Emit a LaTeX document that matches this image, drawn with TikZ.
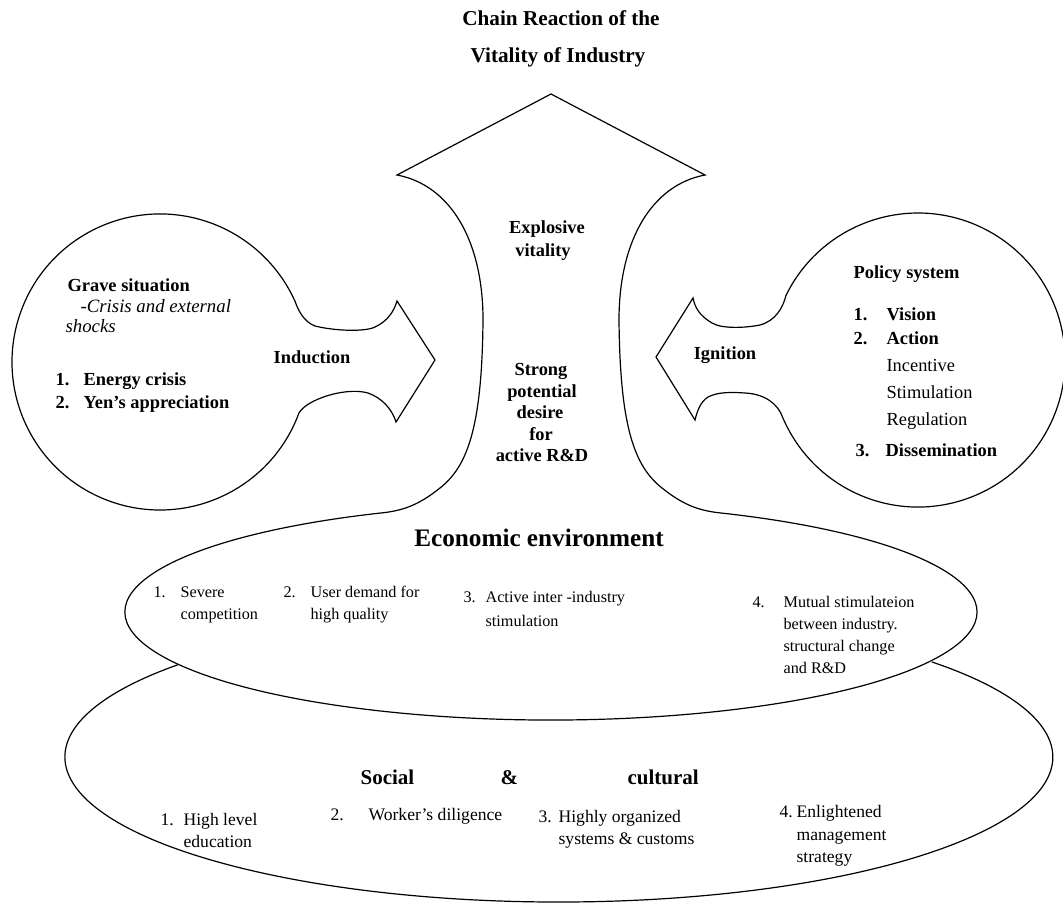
\documentclass[tikz,border=0pt]{standalone}
\usepackage{fontspec}
\setmainfont{Liberation Serif}

\begin{document}
\begin{tikzpicture}[x=0.5pt, y=0.5pt, line width=0.6pt,
    every node/.style={inner sep=0pt},
    ttl/.style={font=\fontsize{10.6}{12}\selectfont\bfseries, anchor=base},
    bld/.style={font=\fontsize{9.2}{11}\selectfont\bfseries, anchor=base west},
    bldc/.style={font=\fontsize{9.2}{11}\selectfont\bfseries, anchor=base},
    itl/.style={font=\fontsize{9.4}{11}\selectfont\itshape, anchor=base west},
    reg/.style={font=\fontsize{9.2}{11}\selectfont, anchor=base west},
    eco/.style={font=\fontsize{8.1}{10}\selectfont, anchor=base west},
    soc/.style={font=\fontsize{8.8}{10}\selectfont, anchor=base west},
    head/.style={font=\fontsize{10.5}{12}\selectfont\bfseries, anchor=base west}]

        \useasboundingbox (0,0) rectangle (1063,906);

        % title
        \node[ttl] (title1) at (561,880) {Chain Reaction of the};
        \node[ttl] (title2) at (558,843) {Vitality of Industry};

        % big arrow and economic environment
        \draw (397,731) -- (551,812) -- (705,731)
            .. controls (652,721) and (619,666) .. (619,586)
            .. controls (620,480) and (634,440) .. (662,418)
            .. controls (682,402) and (697,396) .. (717.4,393.4)
            arc[start angle=67, end angle=-247, x radius=426, y radius=108]
            .. controls (405,396) and (420,402) .. (440,418)
            .. controls (468,440) and (482,480) .. (483,586)
            .. controls (483,666) and (450,721) .. cycle;

        % social and cultural
        \draw (177.7,241.2) arc[start angle=140.5, end angle=401, x radius=494, y radius=145];

        % grave situation with induction
        \draw (299.1,493.4) arc[start angle=-20, end angle=-336, radius=148]
            .. controls (298,596) and (304,584) .. (315,580)
            .. controls (335,575) and (365,574) .. (375,579)
            .. controls (388,585) and (394,595) .. (397,605)
            -- (435,546) -- (396,484)
            .. controls (392,497) and (382,508) .. (368,513)
            .. controls (350,518) and (322,511) .. (307,501)
            .. controls (304,499) and (301,496) .. cycle;

        % policy system with ignition
        \draw (785.9,610.4) arc[start angle=154, end angle=-157, radius=147]
            .. controls (778,502) and (765,512) .. (745,513)
            .. controls (730,514) and (718,514) .. (708,509)
            .. controls (700,504) and (697,494) .. (695,486)
            -- (656,549) -- (693,608)
            .. controls (695,598) and (700,590) .. (712,583)
            .. controls (722,577) and (745,578) .. (760,581)
            .. controls (775,585) and (783,598) .. cycle;

        % arrow text
        \node[bldc] (explo1) at (547,672) {Explosive};
        \node[bldc] (explo2) at (543,649) {vitality};
        \node[bldc] (desire1) at (541,531) {Strong};
        \node[bldc] (desire2) at (542,509) {potential};
        \node[bldc] (desire3) at (540,488) {desire};
        \node[bldc] (desire4) at (541,466) {for};
        \node[bldc] (desire5) at (542,445) {active R\&D};
        \node[bldc] (induction) at (312,543) {Induction};
        \node[bldc] (ignition) at (725,547) {Ignition};

        % grave situation
        \node[bld] (grave) at (67,614) {Grave situation};
        \node[itl] (crisis1) at (80,594) {-Crisis and external};
        \node[itl] (crisis2) at (65,574) {shocks};
        \node[bld] (gnum1) at (55,521) {1.};
        \node[bld] (energy) at (83,521) {Energy crisis};
        \node[bld] (gnum2) at (55,498) {2.};
        \node[bld] (yen) at (83,498) {Yen’s appreciation};

        % policy system
        \node[bld] (policy) at (853,627) {Policy system};
        \node[bld] (pnum1) at (853,585) {1.};
        \node[bld] (vision) at (886,585) {Vision};
        \node[bld] (pnum2) at (853,561) {2.};
        \node[bld] (action) at (886,561) {Action};
        \node[reg] (incentive) at (886,535) {Incentive};
        \node[reg] (stimul) at (886,508) {Stimulation};
        \node[reg] (regul) at (886,481) {Regulation};
        \node[bld] (pnum3) at (855,450) {3.};
        \node[bld] (dissem) at (885,450) {Dissemination};

        % economic environment
        \node[font=\fontsize{12.6}{14}\selectfont\bfseries, anchor=base] (econ) at (539,360) {Economic environment};
        \node[eco] (enum1) at (153,309) {1.};
        \node[eco] (severe1) at (180,309) {Severe};
        \node[eco] (severe2) at (180,287) {competition};
        \node[eco] (enum2) at (283,309) {2.};
        \node[eco] (user1) at (310,309) {User demand for};
        \node[eco] (user2) at (310,287) {high quality};
        \node[eco] (enum3) at (463,304) {3.};
        \node[eco] (inter1) at (485,304) {Active inter -industry};
        \node[eco] (inter2) at (485,280) {stimulation};
        \node[eco] (enum4) at (752,299) {4.};
        \node[eco] (mutual1) at (783,299) {Mutual stimulateion};
        \node[eco] (mutual2) at (783,277) {between industry.};
        \node[eco] (mutual3) at (783,255) {structural change};
        \node[eco] (mutual4) at (783,233) {and R\&D};

        % social and cultural
        \node[head] (social) at (360,122) {Social};
        \node[head] (amp) at (500,122) {\&};
        \node[head] (cultural) at (627,122) {cultural};
        \node[soc] (snum1) at (160,81) {1.};
        \node[soc] (high1) at (183,81) {High level};
        \node[soc] (high2) at (183,59) {education};
        \node[soc] (snum2) at (330,86) {2.};
        \node[soc] (worker) at (368,86) {Worker’s diligence};
        \node[soc] (snum3) at (538,84) {3.};
        \node[soc] (organ1) at (558,84) {Highly organized};
        \node[soc] (organ2) at (558,62) {systems \& customs};
        \node[soc] (snum4) at (779,89) {4.};
        \node[soc] (enlight1) at (796,89) {Enlightened};
        \node[soc] (enlight2) at (796,66) {management};
        \node[soc] (enlight3) at (796,44) {strategy};
    \end{tikzpicture}
\end{document}
